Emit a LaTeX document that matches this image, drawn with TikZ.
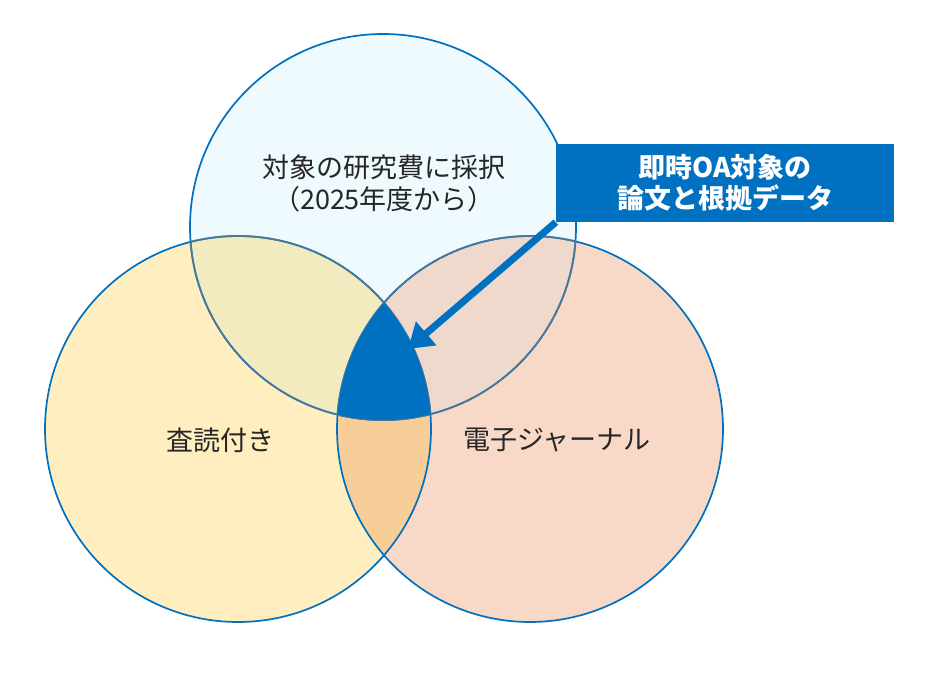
\documentclass[tikz,border=0pt]{standalone}
\usepackage{fontspec}
\setmainfont{Noto Sans CJK JP}
\usetikzlibrary{arrows.meta}
\definecolor{oablue}{HTML}{0070C0}
\definecolor{muted}{HTML}{4A7897}
\definecolor{topcol}{HTML}{EFFAFE}
\definecolor{leftcol}{HTML}{FFEFC0}
\definecolor{rightcol}{HTML}{F8D9C8}
\definecolor{tlcol}{HTML}{F1EBBF}
\definecolor{trcol}{HTML}{EFD8CC}
\definecolor{lrcol}{HTML}{F8CE98}
\definecolor{txt}{HTML}{262626}
\tikzset{
  setlabel/.style={text=txt, font=\fontsize{27}{32}\selectfont, align=center, inner sep=0pt},
  calloutbox/.style={fill=oablue, text=white, font=\bfseries\fontsize{27}{31}\selectfont, align=center, minimum width=338pt, minimum height=78pt, inner sep=0pt},
  ring/.style={draw=oablue, line width=1.7pt},
  mutedring/.style={draw=muted, line width=1.7pt},
  bigarrow/.style={draw=oablue, line width=7pt, -{Triangle[length=24pt,width=30pt]}}
}
\begin{document}
\begin{tikzpicture}[x=1pt,y=-1pt]
\useasboundingbox (0,0) rectangle (940,685);
\fill[white] (0,0) rectangle (940,685);
\coordinate (cT) at (383,227);
\coordinate (cL) at (238,429);
\coordinate (cR) at (530,429);
\def\rr{193pt}
% base fills
\fill[topcol] (cT) circle[radius=\rr];
\fill[leftcol] (cL) circle[radius=\rr];
\fill[rightcol] (cR) circle[radius=\rr];
\begin{scope}
  \clip (cT) circle[radius=\rr];
  \fill[tlcol] (cL) circle[radius=\rr];
  \fill[trcol] (cR) circle[radius=\rr];
\end{scope}
\begin{scope}
  \clip (cL) circle[radius=\rr];
  \fill[lrcol] (cR) circle[radius=\rr];
\end{scope}
% outlines
\draw[ring] (cT) circle[radius=\rr];
\draw[ring] (cL) circle[radius=\rr];
\draw[ring] (cR) circle[radius=\rr];
\begin{scope}
  \clip (cT) circle[radius=\rr];
  \draw[mutedring] (cL) circle[radius=\rr];
  \draw[mutedring] (cR) circle[radius=\rr];
\end{scope}
\begin{scope}
  \clip (cL) circle[radius=\rr];
  \draw[mutedring] (cT) circle[radius=\rr];
\end{scope}
\begin{scope}
  \clip (cR) circle[radius=\rr];
  \draw[mutedring] (cT) circle[radius=\rr];
\end{scope}
% centre region
\begin{scope}
  \clip (cT) circle[radius=\rr];
  \clip (cL) circle[radius=\rr];
  \fill[oablue] (cR) circle[radius=\rr];
\end{scope}
% labels
\node[setlabel] (topl) at (384,183) {対象の研究費に採択\\（2025年度から）};
\node[setlabel] (leftl) at (220,440) {査読付き};
\node[setlabel] (rightl) at (557,440) {電子ジャーナル};
\node[calloutbox] (box) at (725,183) {即時OA対象の\\論文と根拠データ};
\coordinate (tip) at (408,349);
\draw[bigarrow] (box.south west) -- (tip);
\end{tikzpicture}
\end{document}
